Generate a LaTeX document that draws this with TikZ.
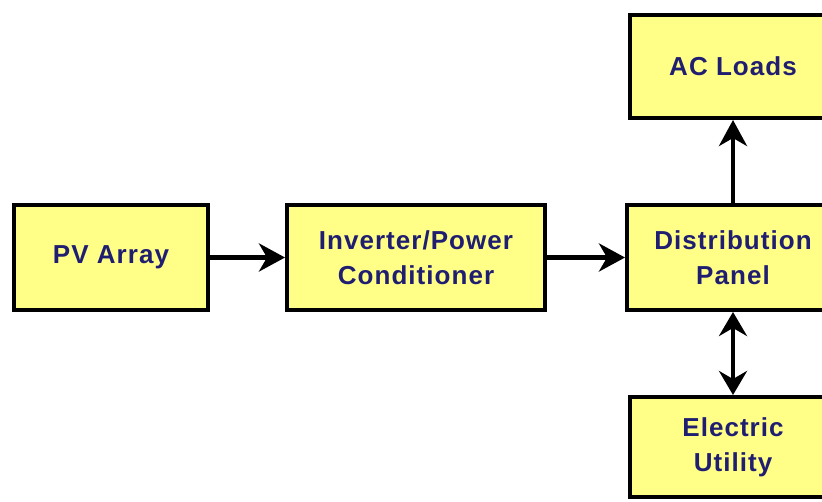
\documentclass[tikz,border=0pt]{standalone}
\usepackage{fontspec}
\setmainfont{Liberation Sans}
\newfontfamily\blockfont[LetterSpace=4]{Liberation Sans}
\usetikzlibrary{arrows.meta}
\definecolor{blockyellow}{RGB}{255,255,136}
\definecolor{labelnavy}{RGB}{32,30,112}
\begin{document}
\begin{tikzpicture}[x=1pt,y=-1pt,
    block/.style={draw=black, line width=4pt, fill=blockyellow, text=labelnavy,
        font=\blockfont\bfseries\fontsize{26}{35}\selectfont, align=center, inner sep=0pt},
    flow/.style={line width=4.5pt, -{Stealth[length=26pt,width=28pt,inset=8pt]}},
    twoway/.style={line width=4.5pt, {Stealth[length=24pt,width=28pt,inset=8pt]}-{Stealth[length=24pt,width=28pt,inset=8pt]}}]
    \useasboundingbox (0,0) rectangle (822,501);
    \clip (0,0) rectangle (822,501);
    % boxes
    \node[block, minimum width=194pt, minimum height=105pt] (pv) at (111,257.5) {PV Array};
    \node[block, minimum width=258pt, minimum height=105pt] (inv) at (416,257.5) {Inverter/Power\\Conditioner};
    \node[block, minimum width=212pt, minimum height=105pt] (dist) at (733,257.5) {Distribution\\Panel};
    \node[block, minimum width=206pt, minimum height=103pt] (ac) at (733,66.5) {AC Loads};
    \node[block, minimum width=206pt, minimum height=100pt] (util) at (733,447) {Electric\\Utility};
    % connectors
    \draw[flow] (pv) -- (inv);
    \draw[flow] (inv) -- (dist);
    \draw[flow] (dist) -- (ac);
    \draw[twoway] (dist) -- (util);
\end{tikzpicture}
\end{document}
